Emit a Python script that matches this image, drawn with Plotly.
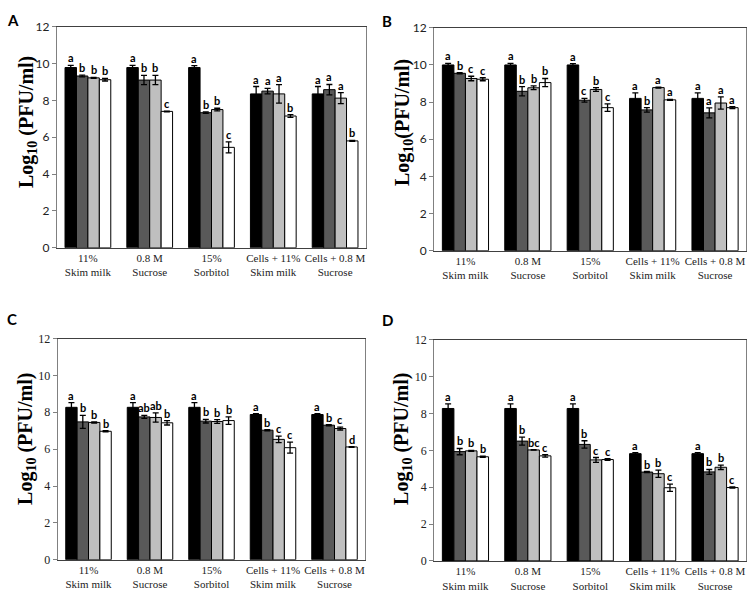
import plotly.graph_objects as go

categories = ["11%<br>Skim milk", "0.8 M<br>Sucrose", "15%<br>Sorbitol",
              "Cells + 11%<br>Skim milk", "Cells + 0.8 M<br>Sucrose"]
tick_values = [0, 2, 4, 6, 8, 10, 12]
series_colors = ["#000000", "#595959", "#bfbfbf", "#ffffff"]
y_title = "<b>Log<sub>10</sub> (PFU/ml)</b>"
y_title_b = "<b>Log<sub>10</sub>(PFU/ml)</b>"

# Panel A: values per series (4 series x 5 groups)
A_vals = [[9.78, 9.78, 9.78, 8.35, 8.35],
          [9.32, 9.10, 7.33, 8.50, 8.58],
          [9.22, 9.10, 7.50, 8.35, 8.12],
          [9.12, 7.40, 5.45, 7.15, 5.80]]
A_err = [[0.12, 0.12, 0.10, 0.40, 0.40],
         [0.05, 0.25, 0.04, 0.15, 0.28],
         [0.03, 0.25, 0.07, 0.50, 0.30],
         [0.07, 0.02, 0.30, 0.07, 0.03]]
A_let = [["a", "a", "a", "a", "a"],
         ["b", "b", "b", "a", "a"],
         ["b", "b", "b", "a", "a"],
         ["b", "c", "c", "b", "b"]]

B_vals = [[10.0, 10.0, 10.0, 8.20, 8.20],
          [9.55, 8.58, 8.10, 7.58, 7.42],
          [9.27, 8.77, 8.68, 8.78, 7.95],
          [9.23, 9.05, 7.70, 8.12, 7.70]]
B_err = [[0.08, 0.08, 0.07, 0.30, 0.30],
         [0.03, 0.25, 0.10, 0.12, 0.27],
         [0.12, 0.10, 0.10, 0.03, 0.33],
         [0.08, 0.22, 0.20, 0.03, 0.05]]
B_let = [["a", "a", "a", "a", "a"],
         ["b", "b", "c", "b", "a"],
         ["c", "b", "b", "a", "a"],
         ["c", "b", "c", "a", "a"]]

C_vals = [[8.27, 8.27, 8.27, 7.88, 7.88],
          [7.48, 7.75, 7.52, 7.03, 7.30],
          [7.45, 7.72, 7.50, 6.53, 7.12],
          [6.97, 7.43, 7.55, 6.08, 6.12]]
C_err = [[0.25, 0.25, 0.25, 0.05, 0.05],
         [0.35, 0.08, 0.10, 0.03, 0.03],
         [0.03, 0.25, 0.10, 0.18, 0.08],
         [0.03, 0.12, 0.20, 0.30, 0.02]]
C_let = [["a", "a", "a", "a", "a"],
         ["b", "ab", "b", "b", "b"],
         ["b", "ab", "b", "c", "c"],
         ["b", "b", "b", "c", "d"]]

D_vals = [[8.27, 8.27, 8.27, 5.82, 5.82],
          [5.93, 6.50, 6.32, 4.82, 4.83],
          [5.97, 6.02, 5.48, 4.73, 5.08],
          [5.65, 5.70, 5.50, 3.97, 3.98]]
D_err = [[0.25, 0.25, 0.25, 0.05, 0.05],
         [0.17, 0.22, 0.20, 0.03, 0.13],
         [0.03, 0.01, 0.13, 0.20, 0.12],
         [0.03, 0.07, 0.05, 0.20, 0.03]]
D_let = [["a", "a", "a", "a", "a"],
         ["b", "b", "b", "b", "b"],
         ["b", "bc", "c", "b", "b"],
         ["b", "c", "c", "c", "c"]]

W, H = 750, 597
# name, values, errors, letters, x domain, y domain, tick font, label dy, title centre (px), title
panels = [
    ("A", A_vals, A_err, A_let, [0.076, 0.488], [0.588, 0.968], "Lato", 0.030, (27, 117), y_title),
    ("B", B_vals, B_err, B_let, [0.579, 0.995], [0.583, 0.966], "Lato", 0.030, (403, 118), y_title_b),
    ("C", C_vals, C_err, C_let, [0.077, 0.487], [0.052, 0.432], "Liberation Serif", 0.052, (27, 442), y_title),
    ("D", D_vals, D_err, D_let, [0.579, 0.995], [0.050, 0.430], "Liberation Serif", 0.052, (403, 442), y_title),
]

fig = go.Figure()
layout = dict(width=W, height=H, margin=dict(l=0, r=0, t=0, b=0),
              paper_bgcolor="white", plot_bgcolor="white", showlegend=False,
              annotations=[])

n_series = 4
group_width = 0.74
bw = group_width / n_series

for pi, (name, vals, errs, lets, xd, yd, tickfont, lab_dy, tpos, ttl) in enumerate(panels):
    sfx = "" if pi == 0 else str(pi + 1)
    xa = "x" + sfx
    ya = "y" + sfx
    for si in range(n_series):
        off = -group_width / 2 + si * bw
        fig.add_trace(go.Bar(
            x=list(range(len(categories))), y=vals[si],
            width=bw, offset=off,
            marker=dict(color=series_colors[si], line=dict(color="#000000", width=1)),
            error_y=dict(type="data", array=errs[si], visible=True,
                         color="#000000", thickness=1.3, width=3),
            xaxis=xa, yaxis=ya, hoverinfo="skip"))
        for gi in range(len(categories)):
            layout["annotations"].append(dict(
                x=gi + off + bw / 2, y=vals[si][gi] + errs[si][gi],
                xref=xa, yref=ya, text="<b>%s</b>" % lets[si][gi],
                showarrow=False, yanchor="bottom", yshift=-1,
                font=dict(family="Lato", size=11, color="#000000")))
    layout["xaxis" + sfx] = dict(
        domain=xd, anchor=ya, range=[-0.5, 4.5],
        tickvals=list(range(len(categories))), ticktext=categories,
        ticks="", showline=True, linecolor="#404040", linewidth=1.3,
        mirror=True, showgrid=False, zeroline=False,
        tickfont=dict(family="Liberation Serif", size=11, color="#222222"))
    layout["yaxis" + sfx] = dict(
        domain=yd, anchor=xa, range=[0, 12], tickvals=tick_values,
        ticks="outside", ticklen=4, tickcolor="#808080",
        showline=True, linecolor="#808080", linewidth=1.3, mirror=True,
        showgrid=False, zeroline=False,
        tickfont=dict(family=tickfont, size=12, color="#222222"))
    layout["annotations"].append(dict(
        x=tpos[0] / W, y=1 - tpos[1] / H, xref="paper", yref="paper",
        text=ttl, textangle=-90, showarrow=False,
        xanchor="center", yanchor="middle",
        font=dict(family="Liberation Serif", size=20, color="#000000")))
    layout["annotations"].append(dict(
        x=0.0 if pi % 2 == 0 else 0.5, y=yd[1] + lab_dy,
        xref="paper", yref="paper", text="<b>%s</b>" % name, showarrow=False,
        xanchor="left", yanchor="top", xshift=5,
        font=dict(family="Lato", size=15, color="#000000")))

fig.update_layout(**layout)
fig.write_html("out.html", config={"displayModeBar": False},
               post_script="document.body.style.margin='0';document.body.style.overflow='hidden';")
